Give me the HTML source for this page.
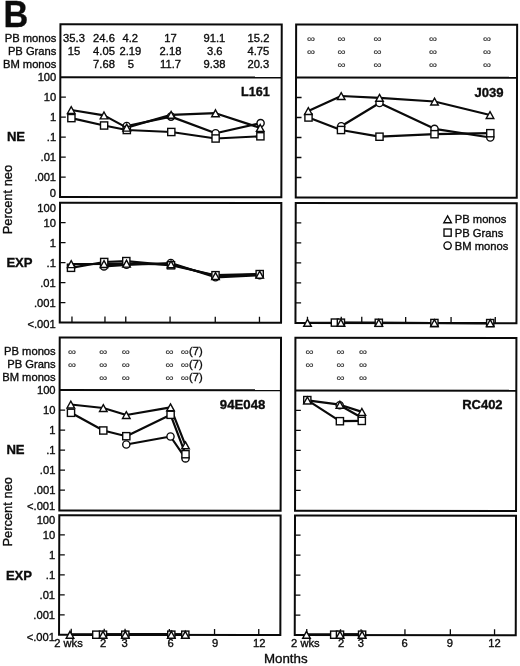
<!DOCTYPE html>
<html lang="en"><head><meta charset="utf-8"><title>Figure B</title>
<style>html,body{margin:0;padding:0;background:#fff}svg{display:block}text{font-family:"Liberation Sans", Arial, Helvetica, sans-serif;fill:#0c0c0c;stroke:#0c0c0c;stroke-width:.35px}.t{font-size:11.2px}.b{font-weight:bold;font-size:12.6px}.c{font-weight:bold;font-size:13.1px}.inf{font-size:10px;fill:#333;stroke:#333;stroke-width:.2px}.fr{fill:none;stroke:#0a0a0a;stroke-width:2}.tk{stroke:#0a0a0a;stroke-width:1.3;fill:none}.ln{stroke:#0a0a0a;stroke-width:2.2;fill:none;stroke-linejoin:round}.mk{fill:#fff;stroke:#0a0a0a;stroke-width:1.4}.lg{fill:#fff;stroke:#0a0a0a;stroke-width:1.35}</style></head><body>
<svg width="520" height="666" viewBox="0 0 520 666">
<rect width="520" height="666" fill="#fff"/>
<g transform="matrix(1 .0013 -.0023 1 0 0)">
<rect class="fr" x="60.5" y="24.1" width="221.3" height="172.9"/>
<path class="fr" d="M60.5 77.1H281.8"/>
<rect class="fr" x="60.5" y="202.6" width="221.3" height="119.9"/>
<rect class="fr" x="296.2" y="24.1" width="221.0" height="172.9"/>
<path class="fr" d="M296.2 77.1H517.2"/>
<rect class="fr" x="296.2" y="202.6" width="221.0" height="119.9"/>
<path class="tk" d="M60.5 97.1h5.6M60.5 117.1h5.6M60.5 137.1h5.6M60.5 157.1h5.6M60.5 177.1h5.6M60.5 222.5h5.6M60.5 242.5h5.6M60.5 262.5h5.6M60.5 282.5h5.6M60.5 302.5h5.6M72.7 322.5v-6.1M105.7 322.5v-6.1M126.5 322.5v-6.1M170.8 322.5v-6.1M216.0 322.5v-6.1M260.2 322.5v-6.1"/>
<path class="tk" d="M296.2 97.1h5.6M296.2 117.1h5.6M296.2 137.1h5.6M296.2 157.1h5.6M296.2 177.1h5.6M296.2 222.5h5.6M296.2 242.5h5.6M296.2 262.5h5.6M296.2 282.5h5.6M296.2 302.5h5.6M308.2 322.5v-6.1M342.0 322.5v-6.1M362.5 322.5v-6.1M406.4 322.5v-6.1M451.8 322.5v-6.1M496.0 322.5v-6.1"/>
<rect class="fr" x="60.5" y="337.4" width="221.3" height="172.9"/>
<path class="fr" d="M60.5 390.0H281.8"/>
<rect class="fr" x="60.5" y="515.1" width="221.3" height="119.6"/>
<rect class="fr" x="296.2" y="337.4" width="221.0" height="172.9"/>
<path class="fr" d="M296.2 390.0H517.2"/>
<rect class="fr" x="296.2" y="515.1" width="221.0" height="119.6"/>
<path class="tk" d="M60.5 410.0h5.6M60.5 430.0h5.6M60.5 450.0h5.6M60.5 470.0h5.6M60.5 490.0h5.6M60.5 534.8h5.6M60.5 554.8h5.6M60.5 574.8h5.6M60.5 594.8h5.6M60.5 614.8h5.6M72.7 634.8v-6.1M105.7 634.8v-6.1M126.5 634.8v-6.1M170.8 634.8v-6.1M216.0 634.8v-6.1M260.2 634.8v-6.1"/>
<path class="tk" d="M296.2 410.0h5.6M296.2 430.0h5.6M296.2 450.0h5.6M296.2 470.0h5.6M296.2 490.0h5.6M296.2 534.8h5.6M296.2 554.8h5.6M296.2 574.8h5.6M296.2 594.8h5.6M296.2 614.8h5.6M308.2 634.8v-6.1M342.0 634.8v-6.1M362.5 634.8v-6.1M406.4 634.8v-6.1M451.8 634.8v-6.1M496.0 634.8v-6.1"/>
</g>
<text class="t" x="56.3" y="81.1" text-anchor="end">100</text>
<text class="t" x="56.3" y="101.1" text-anchor="end">10</text>
<text class="t" x="56.2" y="121.1" text-anchor="end">1</text>
<text class="t" x="56.2" y="141.1" text-anchor="end">.1</text>
<text class="t" x="56.1" y="161.1" text-anchor="end">.01</text>
<text class="t" x="56.1" y="181.1" text-anchor="end">.001</text>
<text class="t" x="56.0" y="197.1" text-anchor="end">0</text>
<text class="t" x="56.0" y="211.5" text-anchor="end">100</text>
<text class="t" x="56.0" y="226.5" text-anchor="end">10</text>
<text class="t" x="55.9" y="246.5" text-anchor="end">1</text>
<text class="t" x="55.9" y="266.5" text-anchor="end">.1</text>
<text class="t" x="55.8" y="286.5" text-anchor="end">.01</text>
<text class="t" x="55.8" y="306.5" text-anchor="end">.001</text>
<text class="t" x="55.7" y="328.0" text-anchor="end">&lt;.001</text>
<text class="t" x="55.6" y="394.0" text-anchor="end">100</text>
<text class="t" x="55.5" y="414.0" text-anchor="end">10</text>
<text class="t" x="55.5" y="434.0" text-anchor="end">1</text>
<text class="t" x="55.5" y="454.0" text-anchor="end">.1</text>
<text class="t" x="55.4" y="474.0" text-anchor="end">.01</text>
<text class="t" x="55.4" y="494.0" text-anchor="end">.001</text>
<text class="t" x="55.3" y="510.0" text-anchor="end">&lt;.001</text>
<text class="t" x="55.3" y="524.0" text-anchor="end">100</text>
<text class="t" x="55.3" y="539.0" text-anchor="end">10</text>
<text class="t" x="55.2" y="559.0" text-anchor="end">1</text>
<text class="t" x="55.2" y="579.0" text-anchor="end">.1</text>
<text class="t" x="55.1" y="599.0" text-anchor="end">.01</text>
<text class="t" x="55.1" y="619.0" text-anchor="end">.001</text>
<text class="t" x="55.0" y="640.5" text-anchor="end">&lt;.001</text>
<text class="t" x="56.4" y="41.7" text-anchor="end">PB monos</text>
<text class="t" x="56.4" y="54.8" text-anchor="end">PB Grans</text>
<text class="t" x="56.4" y="67.9" text-anchor="end">BM monos</text>
<text class="t" x="55.7" y="355.0" text-anchor="end">PB monos</text>
<text class="t" x="55.7" y="368.1" text-anchor="end">PB Grans</text>
<text class="t" x="55.7" y="381.2" text-anchor="end">BM monos</text>
<text transform="translate(3.5 27) scale(.92 1)" style="font-weight:bold;font-size:37.3px">B</text>
<text class="c" x="6.9" y="140.5">NE</text>
<text class="c" x="6.4" y="266.6">EXP</text>
<text class="c" x="6.4" y="453.8">NE</text>
<text class="c" x="5.9" y="579.6">EXP</text>
<text transform="translate(11.8 199.6) rotate(-90)" text-anchor="middle" style="font-size:12.9px">Percent neo</text>
<text transform="translate(11.7 511.8) rotate(-90)" text-anchor="middle" style="font-size:12.9px">Percent neo</text>
<text class="t" x="74.0" y="41.7" text-anchor="middle">35.3</text>
<text class="t" x="104.0" y="41.7" text-anchor="middle">24.6</text>
<text class="t" x="130.3" y="41.7" text-anchor="middle">4.2</text>
<text class="t" x="170.5" y="41.7" text-anchor="middle">17</text>
<text class="t" x="214.4" y="41.7" text-anchor="middle">91.1</text>
<text class="t" x="258.5" y="41.7" text-anchor="middle">15.2</text>
<text class="t" x="74.0" y="54.8" text-anchor="middle">15</text>
<text class="t" x="104.0" y="54.8" text-anchor="middle">4.05</text>
<text class="t" x="130.3" y="54.8" text-anchor="middle">2.19</text>
<text class="t" x="170.5" y="54.8" text-anchor="middle">2.18</text>
<text class="t" x="214.7" y="54.8" text-anchor="middle">3.6</text>
<text class="t" x="258.3" y="54.8" text-anchor="middle">4.75</text>
<text class="t" x="104.0" y="67.9" text-anchor="middle">7.68</text>
<text class="t" x="130.8" y="67.9" text-anchor="middle">5</text>
<text class="t" x="170.5" y="67.9" text-anchor="middle">11.7</text>
<text class="t" x="214.5" y="67.9" text-anchor="middle">9.38</text>
<text class="t" x="258.3" y="67.9" text-anchor="middle">20.3</text>
<text class="inf" transform="translate(311.0 41.7) scale(1.15 .92)" text-anchor="middle">∞</text>
<text class="inf" transform="translate(341.5 41.7) scale(1.15 .92)" text-anchor="middle">∞</text>
<text class="inf" transform="translate(377.7 41.7) scale(1.15 .92)" text-anchor="middle">∞</text>
<text class="inf" transform="translate(433.2 41.7) scale(1.15 .92)" text-anchor="middle">∞</text>
<text class="inf" transform="translate(487.2 41.7) scale(1.15 .92)" text-anchor="middle">∞</text>
<text class="inf" transform="translate(311.0 54.8) scale(1.15 .92)" text-anchor="middle">∞</text>
<text class="inf" transform="translate(341.5 54.8) scale(1.15 .92)" text-anchor="middle">∞</text>
<text class="inf" transform="translate(377.7 54.8) scale(1.15 .92)" text-anchor="middle">∞</text>
<text class="inf" transform="translate(433.2 54.8) scale(1.15 .92)" text-anchor="middle">∞</text>
<text class="inf" transform="translate(487.2 54.8) scale(1.15 .92)" text-anchor="middle">∞</text>
<text class="inf" transform="translate(341.5 67.9) scale(1.15 .92)" text-anchor="middle">∞</text>
<text class="inf" transform="translate(377.7 67.9) scale(1.15 .92)" text-anchor="middle">∞</text>
<text class="inf" transform="translate(433.2 67.9) scale(1.15 .92)" text-anchor="middle">∞</text>
<text class="inf" transform="translate(487.2 67.9) scale(1.15 .92)" text-anchor="middle">∞</text>
<text class="inf" transform="translate(72.0 354.6) scale(1.15 .92)" text-anchor="middle">∞</text>
<text class="inf" transform="translate(103.3 354.6) scale(1.15 .92)" text-anchor="middle">∞</text>
<text class="inf" transform="translate(125.8 354.6) scale(1.15 .92)" text-anchor="middle">∞</text>
<text class="inf" transform="translate(169.7 354.6) scale(1.15 .92)" text-anchor="middle">∞</text>
<text class="inf" transform="translate(72.0 367.7) scale(1.15 .92)" text-anchor="middle">∞</text>
<text class="inf" transform="translate(103.3 367.7) scale(1.15 .92)" text-anchor="middle">∞</text>
<text class="inf" transform="translate(125.8 367.7) scale(1.15 .92)" text-anchor="middle">∞</text>
<text class="inf" transform="translate(169.7 367.7) scale(1.15 .92)" text-anchor="middle">∞</text>
<text class="inf" transform="translate(103.3 380.8) scale(1.15 .92)" text-anchor="middle">∞</text>
<text class="inf" transform="translate(125.8 380.8) scale(1.15 .92)" text-anchor="middle">∞</text>
<text class="inf" transform="translate(169.7 380.8) scale(1.15 .92)" text-anchor="middle">∞</text>
<text class="inf" transform="translate(184.8 354.6) scale(1.15 .92)" text-anchor="middle">∞</text>
<text class="t" x="189" y="355.2">(7)</text>
<text class="inf" transform="translate(184.8 367.7) scale(1.15 .92)" text-anchor="middle">∞</text>
<text class="t" x="189" y="368.3">(7)</text>
<text class="inf" transform="translate(184.8 380.8) scale(1.15 .92)" text-anchor="middle">∞</text>
<text class="t" x="189" y="381.4">(7)</text>
<text class="inf" transform="translate(309.5 354.9) scale(1.15 .92)" text-anchor="middle">∞</text>
<text class="inf" transform="translate(340.5 354.9) scale(1.15 .92)" text-anchor="middle">∞</text>
<text class="inf" transform="translate(363.0 354.9) scale(1.15 .92)" text-anchor="middle">∞</text>
<text class="inf" transform="translate(309.5 368.0) scale(1.15 .92)" text-anchor="middle">∞</text>
<text class="inf" transform="translate(340.5 368.0) scale(1.15 .92)" text-anchor="middle">∞</text>
<text class="inf" transform="translate(363.0 368.0) scale(1.15 .92)" text-anchor="middle">∞</text>
<text class="inf" transform="translate(340.5 381.1) scale(1.15 .92)" text-anchor="middle">∞</text>
<text class="inf" transform="translate(363.0 381.1) scale(1.15 .92)" text-anchor="middle">∞</text>
<text class="b" x="269.8" y="96.2" text-anchor="end">L161</text>
<text class="c" x="503.6" y="96.9" text-anchor="end">J039</text>
<text class="c" x="265.3" y="409" text-anchor="end" style="font-size:13.2px">94E048</text>
<text class="c" x="502.6" y="409.4" text-anchor="end" style="font-size:13px">RC402</text>
<path class="lg" d="M447.60 215.80L451.40 222.70L443.80 222.70Z"/>
<rect class="lg" x="444.00" y="229.00" width="7.20" height="7.20"/>
<circle class="lg" cx="447.60" cy="245.60" r="3.67"/>
<text class="t" x="454.8" y="223.3">PB monos</text>
<text class="t" x="454.8" y="236.7">PB Grans</text>
<text class="t" x="454.8" y="250.1">BM monos</text>
<text class="t" x="68.5" y="646.5" text-anchor="middle">2 wks</text>
<text class="t" x="103.0" y="646.5" text-anchor="middle">2</text>
<text class="t" x="124.6" y="646.5" text-anchor="middle">3</text>
<text class="t" x="170.6" y="646.5" text-anchor="middle">6</text>
<text class="t" x="215.0" y="646.5" text-anchor="middle">9</text>
<text class="t" x="259.2" y="646.5" text-anchor="middle">12</text>
<text class="t" x="305.4" y="646.5" text-anchor="middle">2 wks</text>
<text class="t" x="341.0" y="646.5" text-anchor="middle">2</text>
<text class="t" x="360.8" y="646.5" text-anchor="middle">3</text>
<text class="t" x="404.6" y="646.5" text-anchor="middle">6</text>
<text class="t" x="449.8" y="646.5" text-anchor="middle">9</text>
<text class="t" x="494.6" y="646.5" text-anchor="middle">12</text>
<text x="264" y="663" style="font-size:13.3px">Months</text>
<path class="ln" d="M126.7 126.0L171.0 116.6L215.6 133.2L260.6 123.1"/>
<path class="ln" d="M71.4 118.1L104.1 125.5L126.8 130.0L171.3 132.0L215.6 138.5L260.4 136.3"/>
<path class="ln" d="M71.2 110.0L104.0 115.4L126.7 127.6L171.1 114.8L215.5 113.2L260.2 127.9"/>
<circle class="mk" cx="126.70" cy="126.00" r="3.60"/>
<circle class="mk" cx="171.00" cy="116.60" r="3.60"/>
<circle class="mk" cx="215.60" cy="133.20" r="3.60"/>
<circle class="mk" cx="260.60" cy="123.10" r="3.60"/>
<rect class="mk" x="67.80" y="114.50" width="7.20" height="7.20"/>
<rect class="mk" x="100.50" y="121.90" width="7.20" height="7.20"/>
<rect class="mk" x="123.20" y="126.40" width="7.20" height="7.20"/>
<rect class="mk" x="167.70" y="128.40" width="7.20" height="7.20"/>
<rect class="mk" x="212.00" y="134.90" width="7.20" height="7.20"/>
<rect class="mk" x="256.80" y="132.70" width="7.20" height="7.20"/>
<path class="mk" d="M71.20 106.60L75.00 113.50L67.40 113.50Z"/>
<path class="mk" d="M104.00 112.00L107.80 118.90L100.20 118.90Z"/>
<path class="mk" d="M126.70 124.20L130.50 131.10L122.90 131.10Z"/>
<path class="mk" d="M171.10 111.40L174.90 118.30L167.30 118.30Z"/>
<path class="mk" d="M215.50 109.80L219.30 116.70L211.70 116.70Z"/>
<path class="mk" d="M260.20 124.50L264.00 131.40L256.40 131.40Z"/>
<path class="ln" d="M104.0 266.4L126.5 264.8L170.8 263.0L215.5 277.3L259.7 275.2"/>
<path class="ln" d="M71.0 267.8L104.2 262.0L126.3 261.1L171.0 265.3L215.5 275.2L259.7 274.1"/>
<path class="ln" d="M71.2 264.1L104.0 264.0L126.5 263.6L171.0 264.3L215.5 276.0L259.7 274.6"/>
<circle class="mk" cx="104.00" cy="266.40" r="3.60"/>
<circle class="mk" cx="126.50" cy="264.80" r="3.60"/>
<circle class="mk" cx="170.80" cy="263.00" r="3.60"/>
<circle class="mk" cx="215.50" cy="277.30" r="3.60"/>
<circle class="mk" cx="259.70" cy="275.20" r="3.60"/>
<rect class="mk" x="67.40" y="264.20" width="7.20" height="7.20"/>
<rect class="mk" x="100.60" y="258.40" width="7.20" height="7.20"/>
<rect class="mk" x="122.70" y="257.50" width="7.20" height="7.20"/>
<rect class="mk" x="167.40" y="261.70" width="7.20" height="7.20"/>
<rect class="mk" x="211.90" y="271.60" width="7.20" height="7.20"/>
<rect class="mk" x="256.10" y="270.50" width="7.20" height="7.20"/>
<path class="mk" d="M71.20 260.70L75.00 267.60L67.40 267.60Z"/>
<path class="mk" d="M104.00 260.60L107.80 267.50L100.20 267.50Z"/>
<path class="mk" d="M126.50 260.20L130.30 267.10L122.70 267.10Z"/>
<path class="mk" d="M171.00 260.90L174.80 267.80L167.20 267.80Z"/>
<path class="mk" d="M215.50 272.60L219.30 279.50L211.70 279.50Z"/>
<path class="mk" d="M259.70 271.20L263.50 278.10L255.90 278.10Z"/>
<path class="ln" d="M341.2 126.2L379.5 103.0L434.5 128.8L490.3 137.5"/>
<path class="ln" d="M308.5 117.5L341.0 130.0L379.5 136.7L434.5 134.2L490.3 133.2"/>
<path class="ln" d="M308.3 111.0L341.2 96.0L379.5 97.8L434.5 101.5L490.0 115.0"/>
<circle class="mk" cx="341.20" cy="126.20" r="3.60"/>
<circle class="mk" cx="379.50" cy="103.00" r="3.60"/>
<circle class="mk" cx="434.50" cy="128.80" r="3.60"/>
<circle class="mk" cx="490.30" cy="137.50" r="3.60"/>
<rect class="mk" x="304.90" y="113.90" width="7.20" height="7.20"/>
<rect class="mk" x="337.40" y="126.40" width="7.20" height="7.20"/>
<rect class="mk" x="375.90" y="133.10" width="7.20" height="7.20"/>
<rect class="mk" x="430.90" y="130.60" width="7.20" height="7.20"/>
<rect class="mk" x="486.70" y="129.60" width="7.20" height="7.20"/>
<path class="mk" d="M308.30 107.60L312.10 114.50L304.50 114.50Z"/>
<path class="mk" d="M341.20 92.60L345.00 99.50L337.40 99.50Z"/>
<path class="mk" d="M379.50 94.40L383.30 101.30L375.70 101.30Z"/>
<path class="mk" d="M434.50 98.10L438.30 105.00L430.70 105.00Z"/>
<path class="mk" d="M490.00 111.60L493.80 118.50L486.20 118.50Z"/>
<path class="ln" d="M334.9 322.6L340.9 322.7L378.8 322.8L434.4 323.0L490.2 323.1"/>
<path class="ln" d="M307.5 322.8L340.9 322.8L378.8 322.9L434.4 323.0L490.2 323.1"/>
<rect class="mk" x="331.30" y="319.00" width="7.20" height="7.20"/>
<rect class="mk" x="337.30" y="319.10" width="7.20" height="7.20"/>
<rect class="mk" x="375.20" y="319.20" width="7.20" height="7.20"/>
<rect class="mk" x="430.80" y="319.40" width="7.20" height="7.20"/>
<rect class="mk" x="486.60" y="319.50" width="7.20" height="7.20"/>
<path class="mk" d="M307.50 319.40L311.30 326.30L303.70 326.30Z"/>
<path class="mk" d="M340.90 319.40L344.70 326.30L337.10 326.30Z"/>
<path class="mk" d="M378.80 319.50L382.60 326.40L375.00 326.40Z"/>
<path class="mk" d="M434.40 319.60L438.20 326.50L430.60 326.50Z"/>
<path class="mk" d="M490.20 319.70L494.00 326.60L486.40 326.60Z"/>
<path class="ln" d="M126.3 444.5L170.5 436.5L185.5 458.4"/>
<path class="ln" d="M71.0 412.8L103.3 430.5L126.3 436.2L170.6 414.8L185.5 454.2"/>
<path class="ln" d="M70.8 404.5L103.3 408.0L126.3 415.0L170.5 407.3L185.5 445.3"/>
<circle class="mk" cx="126.30" cy="444.50" r="3.60"/>
<circle class="mk" cx="170.50" cy="436.50" r="3.60"/>
<circle class="mk" cx="185.50" cy="458.40" r="3.60"/>
<rect class="mk" x="67.40" y="409.20" width="7.20" height="7.20"/>
<rect class="mk" x="99.70" y="426.90" width="7.20" height="7.20"/>
<rect class="mk" x="122.70" y="432.60" width="7.20" height="7.20"/>
<rect class="mk" x="167.00" y="411.20" width="7.20" height="7.20"/>
<rect class="mk" x="181.90" y="450.60" width="7.20" height="7.20"/>
<path class="mk" d="M70.80 401.10L74.60 408.00L67.00 408.00Z"/>
<path class="mk" d="M103.30 404.60L107.10 411.50L99.50 411.50Z"/>
<path class="mk" d="M126.30 411.60L130.10 418.50L122.50 418.50Z"/>
<path class="mk" d="M170.50 403.90L174.30 410.80L166.70 410.80Z"/>
<path class="mk" d="M185.50 441.90L189.30 448.80L181.70 448.80Z"/>
<path class="ln" style="stroke-width:2.7" d="M125.3 634.7L171.3 634.7"/>
<path class="ln" style="stroke-width:2.7" d="M96.3 634.7L103.0 634.7L125.3 634.7L171.3 634.7L185.3 634.7"/>
<path class="ln" style="stroke-width:2.7" d="M70.0 634.7L103.0 634.7L125.3 634.7L171.3 634.7L185.3 634.7"/>
<circle class="mk" cx="125.30" cy="634.70" r="3.60"/>
<circle class="mk" cx="171.30" cy="634.70" r="3.60"/>
<rect class="mk" x="92.70" y="631.10" width="7.20" height="7.20"/>
<rect class="mk" x="99.40" y="631.10" width="7.20" height="7.20"/>
<rect class="mk" x="121.70" y="631.10" width="7.20" height="7.20"/>
<rect class="mk" x="167.70" y="631.10" width="7.20" height="7.20"/>
<rect class="mk" x="181.70" y="631.10" width="7.20" height="7.20"/>
<path class="mk" d="M70.00 631.30L73.80 638.20L66.20 638.20Z"/>
<path class="mk" d="M103.00 631.30L106.80 638.20L99.20 638.20Z"/>
<path class="mk" d="M125.30 631.30L129.10 638.20L121.50 638.20Z"/>
<path class="mk" d="M171.30 631.30L175.10 638.20L167.50 638.20Z"/>
<path class="mk" d="M185.30 631.30L189.10 638.20L181.50 638.20Z"/>
<path class="ln" d="M339.7 405.2L361.8 417.8"/>
<path class="ln" d="M307.3 400.1L339.9 421.2L361.8 420.9"/>
<path class="ln" d="M307.4 400.4L339.9 404.7L361.9 411.9"/>
<circle class="mk" cx="339.70" cy="405.20" r="3.60"/>
<circle class="mk" cx="361.80" cy="417.80" r="3.60"/>
<rect class="mk" x="303.70" y="396.50" width="7.20" height="7.20"/>
<rect class="mk" x="336.30" y="417.60" width="7.20" height="7.20"/>
<rect class="mk" x="358.20" y="417.30" width="7.20" height="7.20"/>
<path class="mk" d="M307.40 397.00L311.20 403.90L303.60 403.90Z"/>
<path class="mk" d="M339.90 401.30L343.70 408.20L336.10 408.20Z"/>
<path class="mk" d="M361.90 408.50L365.70 415.40L358.10 415.40Z"/>
<path class="ln" style="stroke-width:2.7" d="M334.2 634.7L340.0 634.7L362.1 634.7"/>
<path class="ln" style="stroke-width:2.7" d="M306.5 634.7L340.0 634.7L362.1 634.7"/>
<rect class="mk" x="330.60" y="631.10" width="7.20" height="7.20"/>
<rect class="mk" x="336.40" y="631.10" width="7.20" height="7.20"/>
<rect class="mk" x="358.50" y="631.10" width="7.20" height="7.20"/>
<path class="mk" d="M306.50 631.30L310.30 638.20L302.70 638.20Z"/>
<path class="mk" d="M340.00 631.30L343.80 638.20L336.20 638.20Z"/>
<path class="mk" d="M362.10 631.30L365.90 638.20L358.30 638.20Z"/>
</svg></body></html>
